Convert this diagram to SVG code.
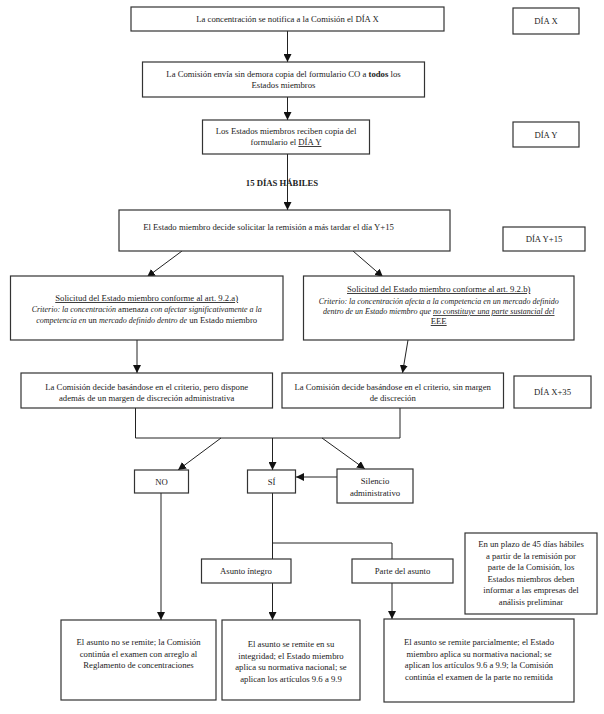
<svg xmlns="http://www.w3.org/2000/svg" width="604" height="714" viewBox="0 0 604 714">
<defs>
<marker id="ah" markerUnits="userSpaceOnUse" markerWidth="8" markerHeight="8" refX="8" refY="4" orient="auto">
<path d="M0,0 L8,4 L0,8 z" fill="#111"/>
</marker>
<style>
rect{fill:#fff;stroke:#333;stroke-width:1.2}
text{font-family:"Liberation Serif","Times New Roman",serif;font-size:8.7px;fill:#222;text-anchor:middle}
.b{font-weight:bold}
.i{font-style:italic;font-size:8px}
.u{text-decoration:underline}
#connectors line,#connectors polyline{stroke:#222;stroke-width:1;fill:none}
.a{marker-end:url(#ah)}
</style>
</defs>
<rect x="0" y="0" width="604" height="714" style="fill:#fff;stroke:none"/>
<g id="lbl15"><text class="b" x="282" y="186">15 DÍAS HÁBILES</text></g>
<g id="connectors">
<line class="a" x1="287.5" y1="31" x2="287.5" y2="62"/>
<line class="a" x1="287.5" y1="97" x2="287.5" y2="120"/>
<line class="a" x1="287.5" y1="154" x2="287.5" y2="210"/>
<line class="a" x1="182" y1="251" x2="147" y2="277"/>
<line class="a" x1="353" y1="251" x2="383" y2="277"/>
<line class="a" x1="137" y1="340" x2="137" y2="373"/>
<line class="a" x1="408" y1="340" x2="402.5" y2="373"/>
<polyline points="135.5,408 135.5,438 400,438 400,408"/>
<line class="a" x1="221" y1="438" x2="178" y2="470"/>
<line class="a" x1="272.5" y1="438" x2="272.5" y2="470"/>
<line class="a" x1="322" y1="438" x2="365" y2="469"/>
<line class="a" x1="337" y1="477" x2="296" y2="477"/>
<line class="a" x1="161" y1="493" x2="161" y2="620"/>
<line x1="272.5" y1="493" x2="272.5" y2="559"/>
<polyline points="272.5,543 392,543 392,559"/>
<line class="a" x1="272.5" y1="583" x2="272.5" y2="620"/>
<line class="a" x1="392" y1="583" x2="392" y2="619"/>
</g>
<g id="n1"><rect x="131" y="7" width="313" height="24"/><text x="287.5" y="21.5">La concentración se notifica a la Comisión el DÍA X</text></g>
<g id="dx"><rect x="513" y="8" width="66" height="26"/><text x="546" y="24">DÍA X</text></g>
<g id="n2"><rect x="142.5" y="62" width="282" height="35"/><text x="283.5" y="77">La Comisión envía sin demora copia del formulario CO a <tspan class="b">todos</tspan> los</text><text x="283.5" y="88">Estados miembros</text></g>
<g id="n3"><rect x="202.5" y="120" width="167" height="34"/><text x="286" y="134">Los Estados miembros reciben copia del</text><text x="286" y="145">formulario el <tspan class="u">DÍA Y</tspan></text></g>
<g id="dy"><rect x="513" y="122" width="66" height="25"/><text x="546" y="137.5">DÍA Y</text></g>
<g id="n4"><rect x="119" y="210" width="331" height="41"/><text x="268.5" y="230">El Estado miembro decide solicitar la remisión a más tardar el día Y+15</text></g>
<g id="dy15"><rect x="503" y="227" width="82" height="24"/><text x="544" y="242">DÍA Y+15</text></g>
<g id="n5"><rect x="10.5" y="276" width="272.5" height="64"/>
<text x="146.7" y="301" class="u">Solicitud del Estado miembro conforme al art. 9.2.a)</text>
<text x="146.7" y="312"><tspan class="i">Criterio: la concentración </tspan>amenaza <tspan class="i">con afectar significativamente a la</tspan></text>
<text x="146.7" y="323"><tspan class="i">competencia en </tspan>un <tspan class="i">mercado definido dentro de </tspan>un Estado miembro</text></g>
<g id="n6"><rect x="303.5" y="276" width="270.5" height="64"/>
<text x="438.7" y="292" class="u">Solicitud del Estado miembro conforme al art. 9.2.b)</text>
<text x="438.7" y="304" class="i">Criterio: la concentración afecta a la competencia en un mercado definido</text>
<text x="438.7" y="314"><tspan class="i">dentro de un Estado miembro que </tspan><tspan class="i u">no constituye una parte sustancial del</tspan></text>
<text x="438.7" y="324" class="u">EEE</text></g>
<g id="n7"><rect x="21" y="373" width="251.5" height="35"/><text x="146.7" y="390">La Comisión decide basándose en el criterio, pero dispone</text><text x="146.7" y="401">además de un margen de discreción administrativa</text></g>
<g id="n8"><rect x="282" y="373" width="221.5" height="35"/><text x="392.7" y="390">La Comisión decide basándose en el criterio, sin margen</text><text x="392.7" y="401">de discreción</text></g>
<g id="dx35"><rect x="514" y="376" width="77" height="32"/><text x="552.5" y="394.5">DÍA X+35</text></g>
<g id="no"><rect x="134.5" y="470" width="54" height="23"/><text x="161.5" y="484.5">NO</text></g>
<g id="si"><rect x="247.5" y="470" width="48" height="23"/><text x="271.5" y="484.5">SÍ</text></g>
<g id="sil"><rect x="337" y="469" width="76" height="34"/><text x="375" y="484">Silencio</text><text x="375" y="496">administrativo</text></g>
<g id="ai"><rect x="201.5" y="559" width="89.5" height="24"/><text x="246" y="574">Asunto íntegro</text></g>
<g id="pa"><rect x="352" y="559" width="101" height="24"/><text x="402.5" y="574">Parte del asunto</text></g>
<g id="note"><rect x="465" y="533" width="132" height="81"/>
<text x="531" y="547">En un plazo de 45 días hábiles</text>
<text x="531" y="558.5">a partir de la remisión por</text>
<text x="531" y="570">parte de la Comisión, los</text>
<text x="531" y="581.5">Estados miembros deben</text>
<text x="531" y="593">informar a las empresas del</text>
<text x="531" y="604.5">análisis preliminar</text></g>
<g id="n9"><rect x="61" y="620" width="155" height="80"/><text x="138.5" y="645">El asunto no se remite; la Comisión</text><text x="138.5" y="656.5">continúa el examen con arreglo al</text><text x="138.5" y="668">Reglamento de concentraciones</text></g>
<g id="n10"><rect x="222" y="620" width="138" height="80"/><text x="291" y="647">El asunto se remite en su</text><text x="291" y="658.5">integridad; el Estado miembro</text><text x="291" y="670">aplica su normativa nacional; se</text><text x="291" y="681.5">aplican los artículos 9.6 a 9.9</text></g>
<g id="n11"><rect x="384" y="619" width="190" height="83"/><text x="479" y="645">El asunto se remite parcialmente; el Estado</text><text x="479" y="656.5">miembro aplica su normativa nacional; se</text><text x="479" y="668">aplican los artículos 9.6 a 9.9; la Comisión</text><text x="479" y="679.5">continúa el examen de la parte no remitida</text></g>
</svg>
